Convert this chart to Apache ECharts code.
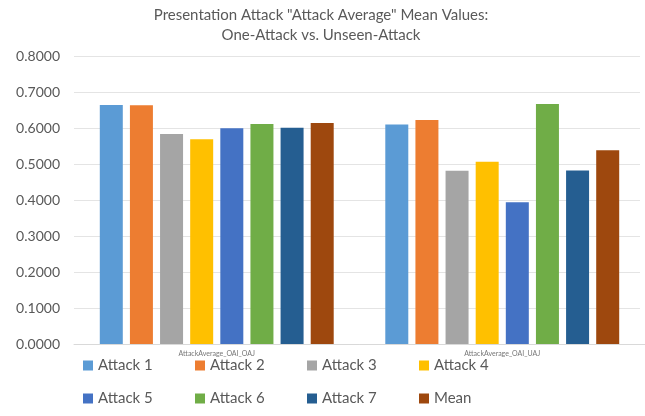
<!DOCTYPE html>
<html>
<head>
<meta charset="utf-8">
<script src="https://cdn.jsdelivr.net/npm/echarts@6/dist/echarts.min.js"></script>
<style>html,body{margin:0;padding:0;background:#fff;}#c{width:645px;height:416px;}</style>
</head>
<body>
<div id="c"></div>
<script>
const categories = ["AttackAverage_OAI_OAJ", "AttackAverage_OAI_UAJ"];
const seriesNames = ["Attack 1", "Attack 2", "Attack 3", "Attack 4", "Attack 5", "Attack 6", "Attack 7", "Mean"];
const attack1 = [0.664, 0.610];
const attack2 = [0.663, 0.622];
const attack3 = [0.583, 0.481];
const attack4 = [0.569, 0.506];
const attack5 = [0.599, 0.394];
const attack6 = [0.611, 0.667];
const attack7 = [0.601, 0.482];
const mean = [0.614, 0.538];
const yTicks = [0, 0.1, 0.2, 0.3, 0.4, 0.5, 0.6, 0.7, 0.8];

const values = [attack1, attack2, attack3, attack4, attack5, attack6, attack7, mean];
const colors = ["#5B9BD5", "#ED7D31", "#A5A5A5", "#FFC000", "#4472C4", "#70AD47", "#255E91", "#9E480E"];
const font = "Lato, 'Open Sans', sans-serif";
const textColor = "#595959";

const chart = echarts.init(document.getElementById('c'));
const legendCols = [83, 195, 307, 419];
const legendRows = [358, 391];
const legends = seriesNames.map((name, i) => ({
  left: legendCols[i % 4], top: legendRows[Math.floor(i / 4)],
  itemWidth: 10, itemHeight: 10, icon: 'rect', padding: 0,
  data: [name],
  textStyle: { color: textColor, fontSize: 15, fontFamily: font }
}));
chart.setOption({
  animation: false,
  color: colors,
  title: {
    text: 'Presentation Attack "Attack Average" Mean Values:\nOne-Attack vs. Unseen-Attack',
    left: 316, top: 0, textAlign: 'center',
    textStyle: { color: textColor, fontSize: 15, fontWeight: 'normal', fontFamily: font, lineHeight: 20 }
  },
  legend: legends,
  grid: [
    { left: 74, right: 5, top: 56, height: 288 },
    { left: 74, right: -6, top: 56, height: 288 }
  ],
  xAxis: [
    { type: 'category', gridIndex: 0, data: categories, show: false },
    { type: 'category', gridIndex: 1, data: categories,
      axisLine: { show: true, lineStyle: { color: '#d9d9d9' } },
      axisTick: { show: false },
      axisLabel: { fontSize: 7, color: '#777', fontFamily: font, margin: 6 } }
  ],
  yAxis: [
    { type: 'value', gridIndex: 0, min: 0, max: 0.8, interval: 0.1,
      axisLine: { show: false }, axisTick: { show: false },
      splitLine: { lineStyle: { color: '#e4e4e4' } },
      axisLabel: { color: textColor, fontSize: 14, fontFamily: font, margin: 14,
        formatter: v => v.toFixed(4) } },
    { type: 'value', gridIndex: 1, min: 0, max: 0.8, interval: 0.1, show: false, splitLine: { show: false } }
  ],
  series: seriesNames.map((name, i) => ({
    name: name, type: 'bar', xAxisIndex: 1, yAxisIndex: 1,
    data: values[i], barWidth: 23, barGap: '31%',
    itemStyle: { color: colors[i] }
  }))
});
</script>
</body>
</html>
